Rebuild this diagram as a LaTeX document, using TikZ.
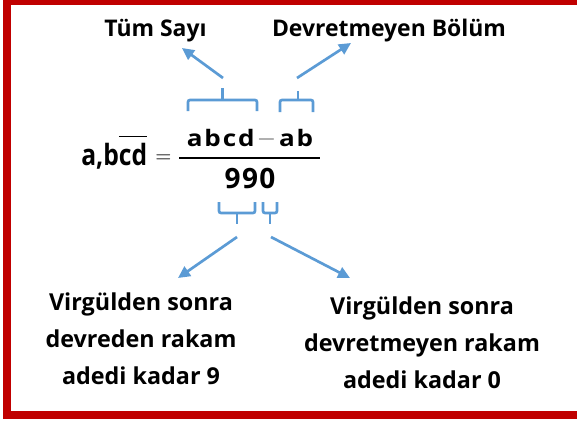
\documentclass[tikz,border=0pt]{standalone}
\usepackage[no-math]{fontspec}
\setmainfont{Open Sans}
\usetikzlibrary{arrows.meta}
\definecolor{bord}{HTML}{C00000}
\definecolor{arrblue}{HTML}{5B9BD5}
\newcommand\myovl[1]{\vbox{\hrule height 0.9pt\kern 4pt\hbox{#1}}}
\begin{document}
\begin{tikzpicture}[x=0.75pt,y=-0.75pt,
  lbl/.style={font=\fontsize{17.2}{27.75}\selectfont\bfseries, inner sep=0, anchor=base},
  blk/.style={font=\fontsize{17.5}{27.75}\selectfont\bfseries, inner sep=0, anchor=base, align=center},
  arr/.style={draw=arrblue, line width=2pt, -{Triangle[length=9pt,width=8.5pt]}},
  brc/.style={draw=arrblue, line width=2pt, rounded corners=1.5pt},
  mth/.style={inner sep=0, anchor=base}]
\useasboundingbox (0,0) rectangle (577,421);
\fill[white] (0,0) rectangle (577,421);
\fill[bord] (3,0) rectangle (577,5);
\fill[bord] (3,0) rectangle (11,419);
\fill[bord] (3,411) rectangle (577,419);

% top labels
\node[lbl] (tum) at (155.5,36) {Tüm Sayı};
\node[lbl] (dev) at (389,36) {Devretmeyen Bölüm};

% equation
\node[mth, anchor=base west] (lhs) at (81,165)
  {\scalebox{0.84}[1]{\fontsize{22}{22}\selectfont\bfseries a,b\myovl{cd}}};
\node[mth] (eq) at (163.5,162) {\scalebox{1.55}{$=$}};
\node[mth] (num) at (250,146)
  {\scalebox{1.15}[1]{\fontsize{17}{17}\selectfont\bfseries a\kern1.2pt b\kern1.2pt c\kern1.2pt d\kern1.6pt\raisebox{1.6pt}{\scalebox{1.35}[1]{\fontsize{12}{12}\selectfont$-$}}\kern1.8pt a\kern1.2pt b}};
\node[mth] (den) at (250,188) {\fontsize{21}{21}\selectfont\bfseries 9\kern1pt 9\kern1pt 0};
\coordinate (fl) at (179,158);
\coordinate (fr) at (320,158);
\draw[line width=1pt] (fl) -- (fr);

% upper braces
\draw[brc] (188,111) -- (188,100) -- (257,100) -- (257,111);
\coordinate (s1) at (222.5,100);
\draw[brc] (s1) -- ++(0,-12);
\draw[brc] (280,112) -- (280,100) -- (313,100) -- (313,112);
\coordinate (s2) at (298,100);
\draw[brc] (s2) -- ++(0,-9);

% upper arrows
\coordinate (t1) at (223,78);
\coordinate (h1) at (182,48);
\draw[arr] (t1) -- (h1);
\coordinate (t2) at (297,78);
\coordinate (h2) at (351,43);
\draw[arr] (t2) -- (h2);

% lower braces
\draw[brc] (219,202) -- (219,213) -- (255,213) -- (255,202);
\coordinate (s3) at (237,213);
\draw[brc] (s3) -- ++(0,11);
\draw[brc] (263,202) -- (263,213) -- (277,213) -- (277,202);
\coordinate (s4) at (270,213);
\draw[brc] (s4) -- ++(0,11);

% lower arrows
\coordinate (t3) at (237,237);
\coordinate (h3) at (178,278);
\draw[arr] (t3) -- (h3);
\coordinate (t4) at (271,237);
\coordinate (h4) at (350,278);
\draw[arr] (t4) -- (h4);

% lower labels (base = baseline of last line)
\node[blk] (l9) at (141,384) {Virgülden sonra\\devreden rakam\\adedi kadar 9};
\node[blk] (l0) at (422,388) {Virgülden sonra\\devretmeyen rakam\\adedi kadar 0};
\end{tikzpicture}
\end{document}
